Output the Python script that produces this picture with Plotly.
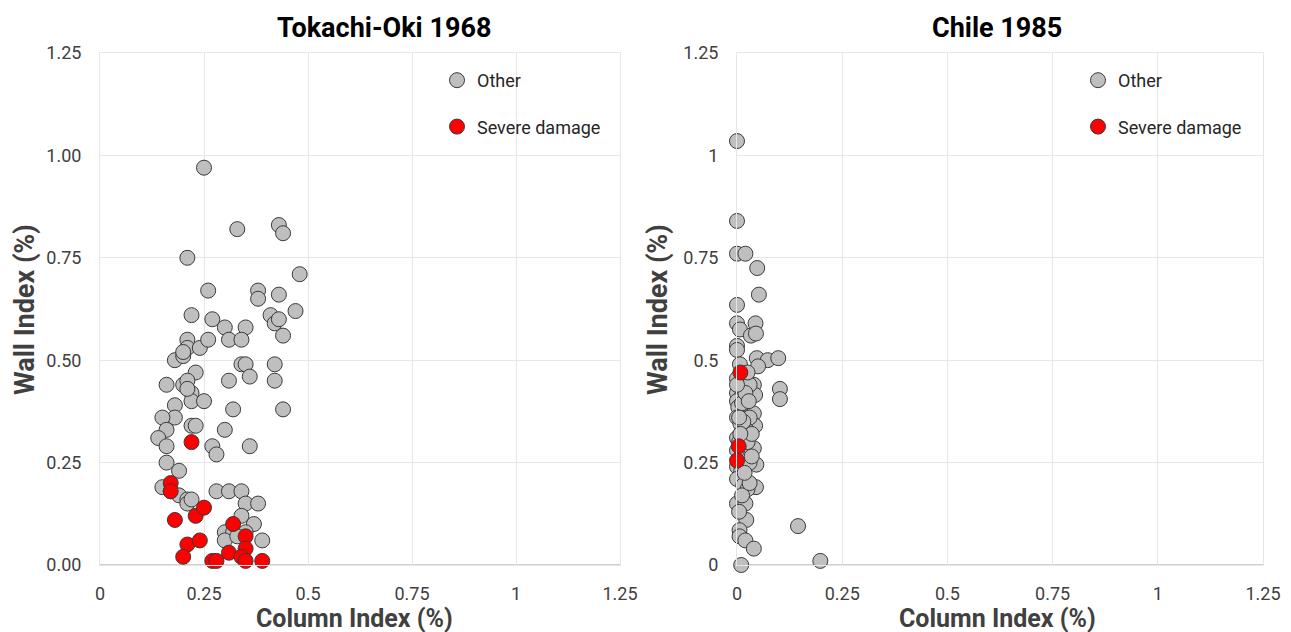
import plotly.graph_objects as go

# ---------------- Data ----------------
# Tokachi-Oki 1968
tok_other_x = [0.25, 0.21, 0.33, 0.43, 0.44, 0.48, 0.26, 0.38, 0.38, 0.43, 0.22, 0.27, 0.30, 0.35,
               0.41, 0.42, 0.43, 0.47, 0.44, 0.31, 0.34, 0.21, 0.21, 0.24, 0.26, 0.18, 0.20, 0.20,
               0.34, 0.35, 0.42, 0.23, 0.36, 0.16, 0.20, 0.21, 0.31, 0.42, 0.22, 0.22, 0.25, 0.32,
               0.44, 0.18, 0.18, 0.15, 0.16, 0.14, 0.22, 0.23, 0.30, 0.16, 0.27, 0.28, 0.36, 0.16,
               0.19, 0.15, 0.17, 0.19, 0.21, 0.21, 0.28, 0.31, 0.34, 0.35, 0.38, 0.34, 0.37, 0.30,
               0.32, 0.39, 0.30, 0.35, 0.33, 0.21, 0.22]
tok_other_y = [0.97, 0.75, 0.82, 0.83, 0.81, 0.71, 0.67, 0.67, 0.65, 0.66, 0.61, 0.60, 0.58, 0.58,
               0.61, 0.59, 0.60, 0.62, 0.56, 0.55, 0.55, 0.55, 0.53, 0.53, 0.55, 0.50, 0.51, 0.52,
               0.49, 0.49, 0.49, 0.47, 0.46, 0.44, 0.44, 0.45, 0.45, 0.45, 0.42, 0.40, 0.40, 0.38,
               0.38, 0.39, 0.36, 0.36, 0.33, 0.31, 0.34, 0.34, 0.33, 0.29, 0.29, 0.27, 0.29, 0.25,
               0.23, 0.19, 0.18, 0.17, 0.16, 0.15, 0.18, 0.18, 0.18, 0.15, 0.15, 0.12, 0.10, 0.08,
               0.08, 0.06, 0.06, 0.08, 0.07, 0.43, 0.16]
tok_severe_x = [0.22, 0.17, 0.17, 0.18, 0.23, 0.25, 0.21, 0.24, 0.20, 0.32, 0.35, 0.35, 0.31,
                0.27, 0.28, 0.34, 0.35, 0.39]
tok_severe_y = [0.30, 0.20, 0.18, 0.11, 0.12, 0.14, 0.05, 0.06, 0.02, 0.10, 0.07, 0.04, 0.03,
                0.01, 0.01, 0.02, 0.01, 0.01]

# Chile 1985
chi_other_x = [0.0, 0.0, 0.0, 0.02, 0.048, 0.052, 0.0, 0.0, 0.044, 0.007, 0.033, 0.045, 0.0, 0.0,
               0.047, 0.073, 0.098, 0.05, 0.007, 0.0, 0.04, 0.102, 0.102, 0.0, 0.01, 0.0, 0.015,
               0.003, 0.043, 0.012, 0.04, 0.043, 0.0, 0.008, 0.022, 0.0, 0.005, 0.04, 0.046, 0.02,
               0.0, 0.01, 0.045, 0.0, 0.015, 0.025, 0.0, 0.02, 0.022, 0.145, 0.006, 0.006, 0.02,
               0.04, 0.01, 0.198, 0.03, 0.02, 0.03, 0.025, 0.035, 0.01, 0.03, 0.012, 0.03, 0.005,
               0.0, 0.015, 0.0, 0.025, 0.008, 0.018, 0.035, 0.005, 0.028]
chi_other_y = [1.035, 0.84, 0.76, 0.76, 0.725, 0.66, 0.635, 0.59, 0.59, 0.575, 0.56, 0.565, 0.535,
               0.525, 0.505, 0.50, 0.505, 0.485, 0.49, 0.455, 0.44, 0.43, 0.405, 0.42, 0.41, 0.40,
               0.39, 0.385, 0.415, 0.395, 0.37, 0.34, 0.36, 0.345, 0.33, 0.31, 0.30, 0.285, 0.245,
               0.26, 0.24, 0.23, 0.19, 0.21, 0.195, 0.185, 0.15, 0.15, 0.11, 0.095, 0.085, 0.07,
               0.06, 0.04, 0.0, 0.01, 0.44, 0.42, 0.36, 0.30, 0.32, 0.27, 0.25, 0.17, 0.20, 0.13,
               0.28, 0.35, 0.44, 0.47, 0.32, 0.225, 0.265, 0.36, 0.40]
chi_severe_x = [0.008, 0.004, 0.0]
chi_severe_y = [0.47, 0.29, 0.255]

tick_vals = [0, 0.25, 0.5, 0.75, 1, 1.25]
x_tick_text = ["0", "0.25", "0.5", "0.75", "1", "1.25"]
left_y_tick_text = ["0.00", "0.25", "0.50", "0.75", "1.00", "1.25"]
right_y_tick_text = ["0", "0.25", "0.5", "0.75", "1", "1.25"]

titles = ["Tokachi-Oki 1968", "Chile 1985"]
x_title = "Column Index (%)"
y_title = "Wall Index (%)"

# ---------------- Styling ----------------
W, H = 1291, 632
ML, MR, MT, MB = 100, 28, 53, 67
PW, PH = W - ML - MR, H - MT - MB
FONT = "Roboto"
GRAY_FILL = "#BFBFBF"
RED_FILL = "#FF0000"
EDGE = "#3a3a3a"
GRID = "#E6E6E6"
TXT = "#404040"

px = lambda p: (p - ML) / PW
py = lambda p: (H - MB - p) / PH

fig = go.Figure()

def add_pair(ox, oy, sx, sy, xa, ya, leg):
    fig.add_trace(go.Scatter(
        x=ox, y=oy, mode="markers", name="Other", xaxis=xa, yaxis=ya,
        legend=leg, legendgroup=leg + "o", cliponaxis=False,
        marker=dict(size=15, color=GRAY_FILL, line=dict(color=EDGE, width=1)),
    ))
    fig.add_trace(go.Scatter(
        x=sx, y=sy, mode="markers", name="Severe damage", xaxis=xa, yaxis=ya,
        legend=leg, legendgroup=leg + "s", cliponaxis=False,
        marker=dict(size=15, color=RED_FILL, line=dict(color=EDGE, width=1)),
    ))

add_pair(tok_other_x, tok_other_y, tok_severe_x, tok_severe_y, "x", "y", "legend")
add_pair(chi_other_x, chi_other_y, chi_severe_x, chi_severe_y, "x2", "y2", "legend2")

common_axis = dict(
    range=[0, 1.25], tickvals=tick_vals, showgrid=True, gridcolor=GRID, gridwidth=1,
    zeroline=False, showline=True, linecolor=GRID, linewidth=1, mirror=True,
    tickfont=dict(family=FONT, size=18, color=TXT), ticks="",
    fixedrange=True, automargin=False,
)

legfont = dict(family=FONT, size=18, color="#262626")
fig.update_layout(
    width=W, height=H, autosize=False,
    margin=dict(l=ML, r=MR, t=MT, b=MB, pad=0),
    paper_bgcolor="white", plot_bgcolor="white",
    font=dict(family=FONT, color=TXT),
    xaxis=dict(domain=[0, px(620)], anchor="y", ticktext=x_tick_text, ticklabelstandoff=12,
               **common_axis),
    yaxis=dict(domain=[0, 1], anchor="x", ticktext=left_y_tick_text, ticklabelstandoff=14,
               **common_axis),
    xaxis2=dict(domain=[px(737), 1], anchor="y2", ticktext=x_tick_text, ticklabelstandoff=12,
                **common_axis),
    yaxis2=dict(domain=[0, 1], anchor="x2", ticktext=right_y_tick_text, ticklabelstandoff=14,
                **common_axis),
    legend=dict(x=px(437), y=py(62), xanchor="left", yanchor="top", bgcolor="rgba(0,0,0,0)",
                font=legfont, tracegroupgap=20, itemwidth=30),
    legend2=dict(x=px(1078), y=py(62), xanchor="left", yanchor="top", bgcolor="rgba(0,0,0,0)",
                 font=legfont, tracegroupgap=20, itemwidth=30),
    showlegend=True,
)

# bottom axis lines slightly darker
fig.add_shape(type="line", xref="x domain", yref="y domain", x0=0, x1=1, y0=0, y1=0,
              line=dict(color="#D0D0D0", width=2), layer="below")
fig.add_shape(type="line", xref="x2 domain", yref="y2 domain", x0=0, x1=1, y0=0, y1=0,
              line=dict(color="#D0D0D0", width=2), layer="below")

# titles
for xc, t in [(384, titles[0]), (997, titles[1])]:
    fig.add_annotation(text=f"<b>{t}</b>", x=px(xc), y=py(28), xref="paper", yref="paper",
                       showarrow=False, xanchor="center", yanchor="middle",
                       font=dict(family=FONT, size=27, color="#000000"))
for xc in [354, 997]:
    fig.add_annotation(text=f"<b>{x_title}</b>", x=px(xc), y=py(618), xref="paper", yref="paper",
                       showarrow=False, xanchor="center", yanchor="middle",
                       font=dict(family=FONT, size=25, color=TXT))
for xc in [25, 658]:
    fig.add_annotation(text=f"<b>{y_title}</b>", x=px(xc), y=py(310), xref="paper", yref="paper",
                       showarrow=False, xanchor="center", yanchor="middle", textangle=-90,
                       font=dict(family=FONT, size=27, color=TXT))

fig.write_html("out.html")
